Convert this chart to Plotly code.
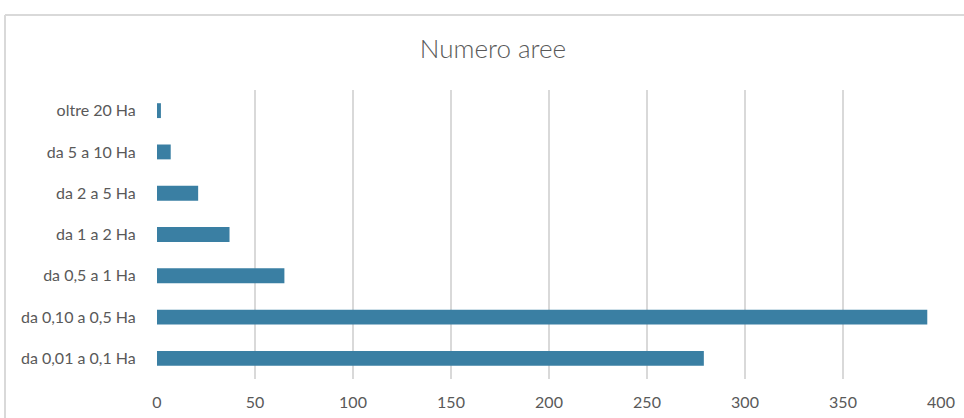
import plotly.graph_objects as go

# Size classes of the areas (bottom to top) and how many areas fall in each
categories = [
    "da 0,01 a 0,1 Ha",
    "da 0,10 a 0,5 Ha",
    "da 0,5 a 1 Ha",
    "da 1 a 2 Ha",
    "da 2 a 5 Ha",
    "da 5 a 10 Ha",
    "oltre 20 Ha",
]
counts = [279, 393, 65, 37, 21, 7, 2]
x_ticks = [0, 50, 100, 150, 200, 250, 300, 350, 400]

W, H = 964, 418
BAR = "#3a7fa3"
GRID = "#d9d9d9"
TEXT = "#595959"
FONT = "Lato, 'Open Sans', sans-serif"

fig = go.Figure(
    go.Bar(
        x=counts,
        y=categories,
        orientation="h",
        marker=dict(color=BAR, line=dict(width=0)),
        width=0.36,
    )
)

fig.update_layout(
    width=W,
    height=H,
    margin=dict(l=157, r=23, t=90, b=39, autoexpand=False),
    paper_bgcolor="white",
    plot_bgcolor="white",
    showlegend=False,
    font=dict(family=FONT, color=TEXT, size=16),
    title=dict(
        text="Numero aree",
        x=493 / W,
        xanchor="center",
        xref="container",
        y=1 - 49 / H,
        yanchor="middle",
        yref="container",
        automargin=False,
        font=dict(size=26, color=TEXT, family=FONT, weight=300),
    ),
    bargap=0.64,
)

fig.update_xaxes(
    range=[0, 400],
    tickvals=x_ticks,
    showgrid=True,
    gridcolor=GRID,
    gridwidth=2,
    zeroline=False,
    showline=False,
    ticks="outside",
    ticklen=9,
    tickcolor="rgba(0,0,0,0)",
    tickfont=dict(size=16, color=TEXT),
    automargin=False,
    fixedrange=True,
)
fig.update_yaxes(
    categoryorder="array",
    categoryarray=categories,
    showgrid=False,
    zeroline=False,
    showline=False,
    ticks="outside",
    ticklen=17,
    tickcolor="rgba(0,0,0,0)",
    tickfont=dict(size=16, color=TEXT),
    automargin=False,
    fixedrange=True,
)

# Light frame around the chart area (top and left edges)
PW, PH = W - 180, H - 129
fig.add_shape(type="line", xref="paper", yref="paper",
              x0=-152 / PW, x1=1 + 23 / PW,
              y0=1 + 75 / PH, y1=1 + 75 / PH,
              line=dict(color=GRID, width=2))
fig.add_shape(type="line", xref="paper", yref="paper",
              x0=-152 / PW, x1=-152 / PW,
              y0=1 + 75 / PH, y1=-39 / PH,
              line=dict(color=GRID, width=2))

fig.write_html("out.html")
